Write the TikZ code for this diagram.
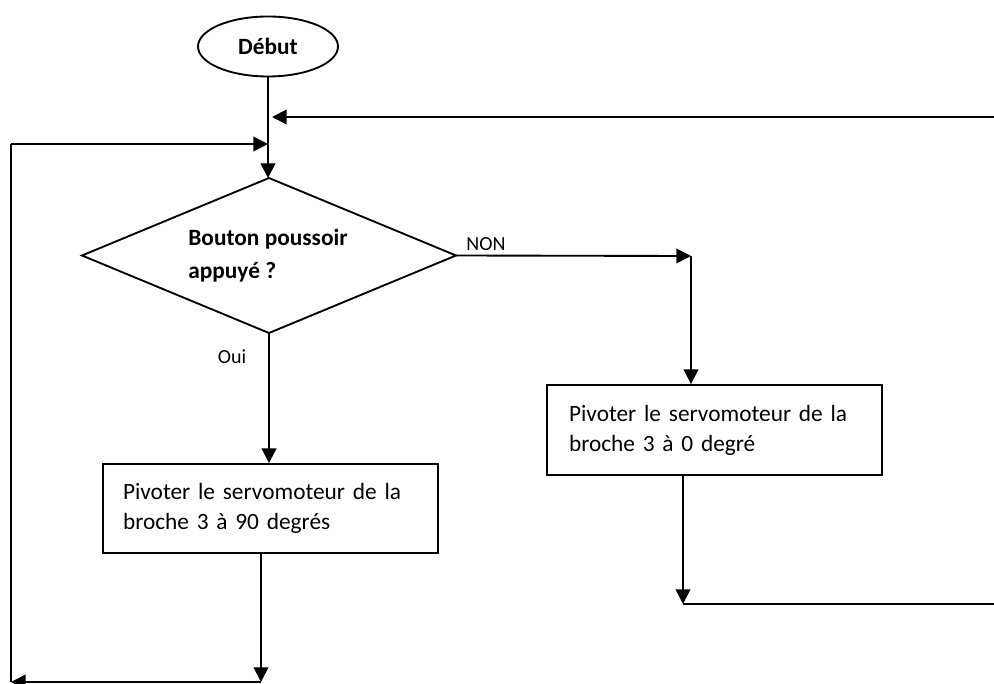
\documentclass[tikz,border=0pt]{standalone}
\usepackage{fontspec}
\setmainfont{Carlito}
\usetikzlibrary{positioning,calc,shapes.geometric,arrows.meta}

\tikzset{
    fleche/.style={-{Triangle[length=11pt,width=11pt]}},
    boite/.style={draw,rectangle,align=left,inner xsep=15pt,font=\fontsize{17.5}{22.5}\selectfont},
}

\begin{document}
\begin{tikzpicture}[x=0.75pt,y=-0.75pt,line width=1.4pt,font=\fontsize{15}{18}\selectfont]
    \useasboundingbox (0,0) rectangle (994,684);

    % formes
    \node[draw,ellipse,minimum width=105pt,minimum height=45pt,font=\bfseries\fontsize{17.5}{21}\selectfont] (debut) at (268,46.5) {Début};
    \node[draw,diamond,minimum width=280.5pt,minimum height=116.25pt,inner sep=0pt,outer sep=0pt] (test) at (269,255.5) {};
    \node[anchor=west,align=left,font=\bfseries\fontsize{17.5}{24.75}\selectfont] (testtxt) at (183,255.5) {Bouton poussoir\\appuyé ?};
    \node[boite,text width=221.25pt,minimum height=66.75pt] (oui) at (270.5,508.5) {Pivoter le servomoteur de la\\broche 3 à 90 degrés};
    \node[boite,text width=218.25pt,inner xsep=16.5pt,minimum height=67.5pt] (non) at (714.5,430) {Pivoter le servomoteur de la\\broche 3 à 0 degré};

    \node (ouitxt) at (232,357) {Oui};
    \node (nontxt) at (486,244) {NON};

    % points de passage
    \coordinate (haut) at (994,117);
    \coordinate (gauche) at (11,144);
    \coordinate (bas) at (11,682);
    \coordinate (retour) at (261,682);
    \coordinate (coin) at (691,256);
    \coordinate (retourb) at (683,604);
    \coordinate (droite) at (994,604);

    % liaisons
    \draw[fleche] (debut.south) -- (debut.south |- test.north);
    \draw[fleche] (haut) -- ([xshift=3pt]debut.south |- haut);
    \draw[fleche] (gauche) -- (debut.south |- gauche);
    \draw[fleche] (test.east) -- (coin);
    \draw[fleche] (coin) -- (coin |- non.north);
    \draw[fleche] (test.south) -- (test.south |- oui.north);
    \draw[fleche] (retour |- oui.south) -- (retour);
    \draw[fleche] (retour) -- (bas);
    \draw (bas) -- (gauche);
    \draw[fleche] (retourb |- non.south) -- (retourb);
    \draw (retourb) -- (droite);

\end{tikzpicture}
\end{document}
